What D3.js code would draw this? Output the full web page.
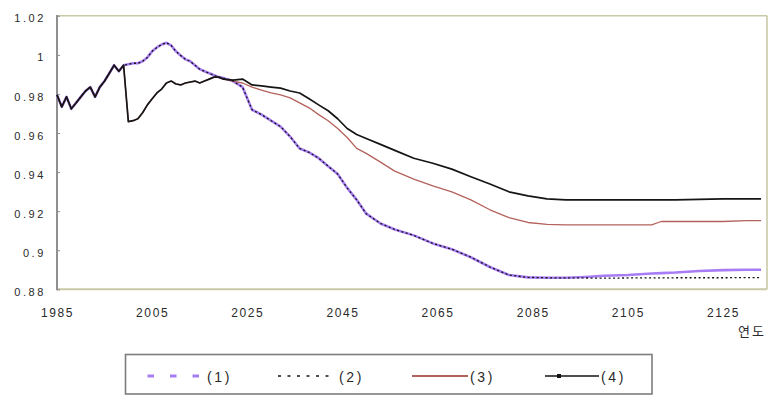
<!DOCTYPE html>
<html>
<head>
<meta charset="utf-8">
<script src="https://cdn.jsdelivr.net/npm/d3@7/dist/d3.min.js"></script>
<style>
  body { margin: 0; background: #fff; }
  svg { display: block; }
</style>
</head>
<body>
<svg id="chart" width="776" height="396"></svg>
<script>
// Years on the horizontal axis (annual to 2020, then sparser)
const years = [
  1985, 1986, 1987, 1988, 1989, 1990, 1991, 1992, 1993, 1994,
  1995, 1996, 1997, 1998, 1999, 2000, 2001, 2002, 2003, 2004,
  2005, 2006, 2007, 2008, 2009, 2010, 2011, 2012, 2013, 2014,
  2015, 2016, 2017, 2018, 2019, 2020,
  2022, 2024, 2026, 2028, 2030, 2032, 2034, 2036, 2038, 2040,
  2042, 2044, 2046, 2048, 2050, 2053, 2056, 2060, 2064, 2068,
  2072, 2076, 2080, 2084, 2088, 2092, 2096, 2100, 2105, 2110,
  2112, 2115, 2120, 2125, 2130, 2133
];

// (1)
const series1 = [
  0.9795, 0.9734, 0.9785, 0.9724, 0.9754, 0.9785, 0.9815, 0.9835, 0.9785, 0.9835,
  0.9866, 0.9906, 0.9947, 0.9916, 0.9947, 0.9952, 0.9957, 0.9957, 0.9967, 0.9987,
  1.0018, 1.0038, 1.0053, 1.0062, 1.0048, 1.0018, 0.9997, 0.9977, 0.9967, 0.9947,
  0.9927, 0.9916, 0.9906, 0.9896, 0.9886, 0.9881,
  0.9866, 0.9835, 0.9719, 0.9694, 0.9663, 0.9633, 0.9582, 0.9521, 0.9501, 0.9471,
  0.9430, 0.9390, 0.9319, 0.9258, 0.9187, 0.9137, 0.9106, 0.9076, 0.9035, 0.9005,
  0.8964, 0.8914, 0.8873, 0.8861, 0.8859, 0.8859, 0.8863, 0.8869, 0.8873, 0.8881,
  0.8883, 0.8886, 0.8894, 0.8898, 0.8900, 0.8900
];

// (2)
const series2 = [
  0.9795, 0.9734, 0.9785, 0.9724, 0.9754, 0.9785, 0.9815, 0.9835, 0.9785, 0.9835,
  0.9866, 0.9906, 0.9947, 0.9916, 0.9947, 0.9952, 0.9957, 0.9957, 0.9967, 0.9987,
  1.0018, 1.0038, 1.0053, 1.0062, 1.0048, 1.0018, 0.9997, 0.9977, 0.9967, 0.9947,
  0.9927, 0.9916, 0.9906, 0.9896, 0.9886, 0.9881,
  0.9866, 0.9835, 0.9719, 0.9694, 0.9663, 0.9633, 0.9582, 0.9521, 0.9501, 0.9471,
  0.9430, 0.9390, 0.9319, 0.9258, 0.9187, 0.9137, 0.9106, 0.9076, 0.9035, 0.9005,
  0.8964, 0.8914, 0.8873, 0.8861, 0.8859, 0.8858, 0.8858, 0.8857, 0.8858, 0.8858,
  0.8858, 0.8859, 0.8859, 0.8859, 0.8860, 0.8860
];

// (3)
const series3 = [
  0.9795, 0.9734, 0.9785, 0.9724, 0.9754, 0.9785, 0.9815, 0.9835, 0.9785, 0.9835,
  0.9866, 0.9906, 0.9947, 0.9916, 0.9947, 0.9658, 0.9663, 0.9673, 0.9704, 0.9744,
  0.9775, 0.9805, 0.9825, 0.9856, 0.9866, 0.9851, 0.9846, 0.9856, 0.9861, 0.9866,
  0.9856, 0.9866, 0.9876, 0.9886, 0.9886, 0.9876,
  0.9866, 0.9856, 0.9835, 0.9820, 0.9805, 0.9795, 0.9780, 0.9754, 0.9729, 0.9694,
  0.9663, 0.9623, 0.9577, 0.9521, 0.9496, 0.9451, 0.9405, 0.9364, 0.9329, 0.9299,
  0.9258, 0.9207, 0.9167, 0.9142, 0.9132, 0.9130, 0.9130, 0.9130, 0.9130, 0.9130,
  0.9147, 0.9147, 0.9147, 0.9147, 0.9152, 0.9152
];

// (4)
const series4 = [
  0.9795, 0.9734, 0.9785, 0.9724, 0.9754, 0.9785, 0.9815, 0.9835, 0.9785, 0.9835,
  0.9866, 0.9906, 0.9947, 0.9916, 0.9947, 0.9658, 0.9663, 0.9673, 0.9704, 0.9744,
  0.9775, 0.9805, 0.9825, 0.9856, 0.9866, 0.9851, 0.9846, 0.9856, 0.9861, 0.9866,
  0.9856, 0.9866, 0.9876, 0.9886, 0.9886, 0.9876,
  0.9871, 0.9876, 0.9846, 0.9841, 0.9835, 0.9830, 0.9815, 0.9805, 0.9775, 0.9744,
  0.9714, 0.9673, 0.9623, 0.9592, 0.9572, 0.9542, 0.9511, 0.9471, 0.9445, 0.9415,
  0.9376, 0.9339, 0.9299, 0.9278, 0.9263, 0.9258, 0.9258, 0.9258, 0.9258, 0.9258,
  0.9258, 0.9258, 0.9260, 0.9263, 0.9263, 0.9263
];

const seriesNames = ["(1)", "(2)", "(3)", "(4)"];
const xTickYears = [1985, 2005, 2025, 2045, 2065, 2085, 2105, 2125];
const yTickValues = [0.88, 0.9, 0.92, 0.94, 0.96, 0.98, 1, 1.02];
const yTickLabels = ["0.88", "0.9", "0.92", "0.94", "0.96", "0.98", "1", "1.02"];
const xAxisTitle = "연도";

// Layout
const plot = { left: 57, right: 767, top: 15.8, bottom: 289.3 };
const svg = d3.select("#chart");

const x = d3.scaleLinear().domain([1985, 2125]).range([plot.left, 723]);
const y = d3.scaleLinear().domain([0.88, 1.02]).range([plot.bottom, plot.top]);

// Plot frame: light olive on top/right/bottom, gray value axis on the left
const frameColor = "#c9c9a6";
svg.append("line").attr("x1", plot.left).attr("x2", plot.right)
  .attr("y1", plot.top).attr("y2", plot.top)
  .attr("stroke", frameColor).attr("stroke-width", 1.6);
svg.append("line").attr("x1", plot.right).attr("x2", plot.right)
  .attr("y1", plot.top).attr("y2", plot.bottom)
  .attr("stroke", frameColor).attr("stroke-width", 1.6);
svg.append("line").attr("x1", plot.left).attr("x2", plot.right)
  .attr("y1", plot.bottom).attr("y2", plot.bottom)
  .attr("stroke", frameColor).attr("stroke-width", 2);

// Value axis
const yAxis = d3.axisLeft(y)
  .tickValues(yTickValues)
  .tickFormat((d, i) => yTickLabels[i])
  .tickSizeInner(-3)
  .tickSizeOuter(0)
  .tickPadding(11);

const gy = svg.append("g")
  .attr("transform", `translate(${plot.left},0)`)
  .call(yAxis);
gy.select(".domain").remove();
gy.selectAll(".tick line").attr("stroke", "#8c8c8c").attr("stroke-width", 1);
gy.selectAll(".tick text")
  .attr("dy", "0.55em")
  .style("font-family", "'Liberation Sans', Arial, sans-serif")
  .style("font-size", "11px")
  .style("letter-spacing", "2.6px")
  .attr("fill", "#2a2a2a");

svg.append("line").attr("x1", plot.left).attr("x2", plot.left)
  .attr("y1", plot.top - 0.8).attr("y2", plot.bottom + 1)
  .attr("stroke", "#8f8f8f").attr("stroke-width", 2);

// Year axis labels
const xAxis = d3.axisBottom(x)
  .tickValues(xTickYears)
  .tickFormat(d3.format("d"))
  .tickSize(0)
  .tickPadding(19);

const gx = svg.append("g")
  .attr("transform", `translate(0,${plot.bottom})`)
  .call(xAxis);
gx.select(".domain").remove();
gx.selectAll(".tick text")
  .style("font-family", "'Liberation Sans', Arial, sans-serif")
  .style("font-size", "12px")
  .style("letter-spacing", "1.6px")
  .attr("fill", "#2a2a2a");

svg.append("text")
  .attr("x", 752).attr("y", 336)
  .attr("text-anchor", "middle")
  .style("font-family", "'Noto Sans CJK KR', sans-serif")
  .style("font-size", "13px")
  .style("letter-spacing", "2px")
  .attr("fill", "#2a2a2a")
  .text(xAxisTitle);

// Series lines
const lineGen = d3.line()
  .x(d => x(d.year))
  .y(d => y(d.value));

const toPoints = vals => years.map((yr, i) => ({ year: yr, value: vals[i] }));

const styles = [
  { data: series1, color: "#a77cf4", width: 2.6, dash: null },
  { data: series3, color: "#b4625c", width: 1.3, dash: null },
  { data: series4, color: "#151515", width: 1.7, dash: null },
  { data: series2, color: "#151515", width: 1.3, dash: "2,2.5" }
];

const gLines = svg.append("g");
styles.forEach(s => {
  gLines.append("path")
    .datum(toPoints(s.data))
    .attr("fill", "none")
    .attr("stroke", s.color)
    .attr("stroke-width", s.width)
    .attr("stroke-linejoin", "round")
    .attr("stroke-dasharray", s.dash)
    .attr("d", lineGen);
});

// Legend
const legend = svg.append("g");
legend.append("rect")
  .attr("x", 125.5).attr("y", 354.5).attr("width", 526.5).attr("height", 39.5)
  .attr("fill", "#fff").attr("stroke", "#7d7d7d").attr("stroke-width", 1.6);

const ly = 376;
const legendText = (tx, label) => legend.append("text")
  .attr("x", tx).attr("y", ly + 5.5)
  .style("font-family", "'Liberation Sans', Arial, sans-serif")
  .style("font-size", "14px")
  .style("letter-spacing", "2.6px")
  .attr("fill", "#2a2a2a")
  .text(label);

// (1) purple dashes
legend.append("line")
  .attr("x1", 147.5).attr("x2", 200).attr("y1", ly).attr("y2", ly)
  .attr("stroke", "#a77cf4").attr("stroke-width", 3)
  .attr("stroke-dasharray", "6.5,16");
legendText(207, seriesNames[0]);

// (2) black dots
legend.append("line")
  .attr("x1", 278).attr("x2", 331).attr("y1", ly).attr("y2", ly)
  .attr("stroke", "#151515").attr("stroke-width", 1.6)
  .attr("stroke-dasharray", "3,6.5");
legendText(339, seriesNames[1]);

// (3) red line
legend.append("line")
  .attr("x1", 412).attr("x2", 468).attr("y1", ly).attr("y2", ly)
  .attr("stroke", "#b4625c").attr("stroke-width", 1.8);
legendText(470, seriesNames[2]);

// (4) black line with marker
legend.append("line")
  .attr("x1", 545).attr("x2", 599).attr("y1", ly).attr("y2", ly)
  .attr("stroke", "#151515").attr("stroke-width", 1.3);
legend.append("rect")
  .attr("x", 557).attr("y", ly - 2).attr("width", 4).attr("height", 4)
  .attr("fill", "#151515");
legendText(601, seriesNames[3]);
</script>
</body>
</html>
